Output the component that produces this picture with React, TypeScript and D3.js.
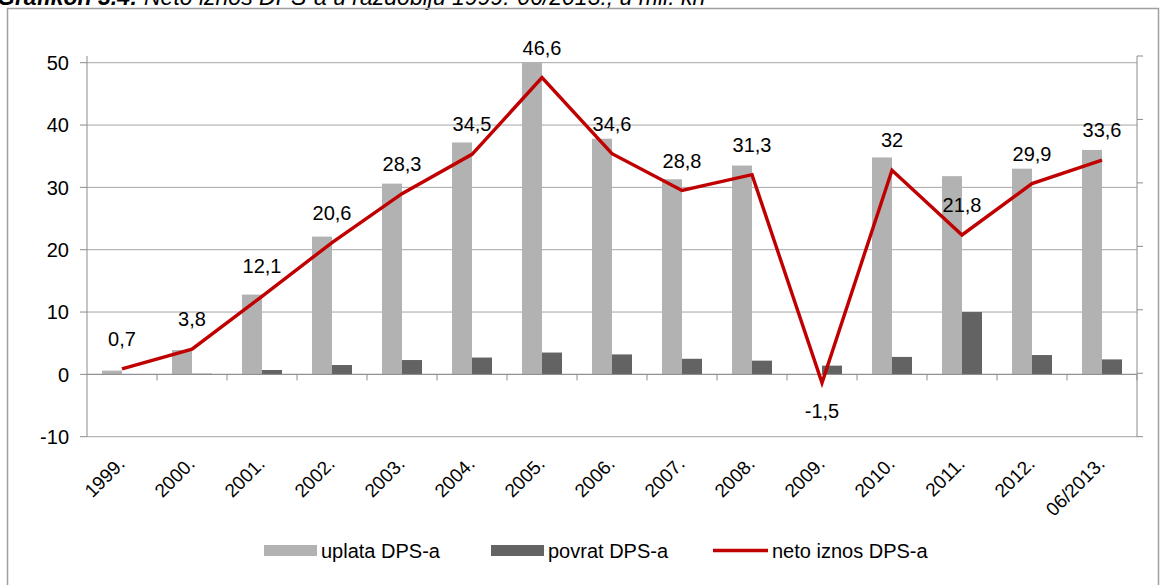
import React from "react";
import * as d3 from "d3";

const categories = ["1999.", "2000.", "2001.", "2002.", "2003.", "2004.", "2005.", "2006.", "2007.", "2008.", "2009.", "2010.", "2011.", "2012.", "06/2013."];
const uplata = [0.6, 3.9, 12.8, 22.1, 30.6, 37.2, 50.1, 37.8, 31.3, 33.5, 0, 34.8, 31.8, 33.0, 36.0];
const povrat = [0, 0.1, 0.7, 1.5, 2.3, 2.7, 3.5, 3.2, 2.5, 2.2, 1.4, 2.8, 10.0, 3.1, 2.4];
const neto = [0.7, 3.8, 12.1, 20.6, 28.3, 34.5, 46.6, 34.6, 28.8, 31.3, -1.5, 32, 21.8, 29.9, 33.6];
const netoLabels = ["0,7", "3,8", "12,1", "20,6", "28,3", "34,5", "46,6", "34,6", "28,8", "31,3", "-1,5", "32", "21,8", "29,9", "33,6"];
const yTicks = [-10, 0, 10, 20, 30, 40, 50];
const seriesNames = ["uplata DPS-a", "povrat DPS-a", "neto iznos DPS-a"];
// NOTE: the reference title is cropped at the top edge; only "Grafikon 3.4: Neto iznos DPS"
// and "1999.-06/2013., u mil. kn" are legible. The middle words ("-a u razdoblju") are a guess.
const titleBold = "Grafikon 3.4:";
const titleRest = " Neto iznos DPS-a u razdoblju 1999.-06/2013., u mil. kn";

const FONT = "'Liberation Sans', Arial, sans-serif";
const LIGHT = "#b2b2b2";
const DARK = "#636363";
const RED = "#c00000";
const GRID = "#a6a6a6";

export default function App() {
  const left = 87, right = 1137;
  const x = d3.scaleBand<string>().domain(categories).range([left, right]).paddingInner(0).paddingOuter(0);
  const bw = x.bandwidth();
  const barW = 20;
  const yL = d3.scaleLinear().domain([-10, 50]).range([436.7, 62.7]);
  const yR = d3.scaleLinear().domain([-10, 50]).range([436.7, 56]);
  const cx = (c: string) => (x(c) as number) + bw / 2;
  const line = d3.line<number>().x((_, i) => cx(categories[i])).y((d) => yR(d));

  return (
    <svg width={1166} height={585} style={{ position: "absolute", left: 0, top: 0, background: "#fff" }} fontFamily={FONT}>
      <text x={-3} y={5} fontSize={23} fill="#000">
        <tspan fontWeight="bold" fontStyle="italic">{titleBold}</tspan>
        <tspan fontStyle="italic">{titleRest}</tspan>
      </text>
      <rect x={7.5} y={8.5} width={1151} height={600} fill="none" stroke="#a0a0a0" strokeWidth={1.5} />

      {yTicks.map((t) => (
        <line key={"g" + t} x1={left} x2={right} y1={yL(t)} y2={yL(t)} stroke={GRID} strokeWidth={1} />
      ))}

      {categories.map((c, i) => (
        <g key={"b" + c}>
          <rect x={cx(c) - barW} y={yL(Math.max(0, uplata[i]))} width={barW} height={Math.abs(yL(uplata[i]) - yL(0))} fill={LIGHT} />
          <rect x={cx(c)} y={yL(Math.max(0, povrat[i]))} width={barW} height={Math.abs(yL(povrat[i]) - yL(0))} fill={DARK} />
        </g>
      ))}

      {/* left axis */}
      <line x1={left} x2={left} y1={56} y2={437} stroke="#8c8c8c" strokeWidth={1} />
      {yTicks.map((t) => (
        <g key={"l" + t}>
          <line x1={80} x2={left} y1={yL(t)} y2={yL(t)} stroke="#8c8c8c" />
          <text x={69} y={yL(t)} dy="0.36em" textAnchor="end" fontSize={20} fill="#000">{t}</text>
        </g>
      ))}
      {/* right axis */}
      <line x1={right} x2={right} y1={56} y2={437} stroke="#8c8c8c" strokeWidth={1} />
      {yTicks.map((t) => (
        <line key={"r" + t} x1={right} x2={right + 6} y1={yR(t)} y2={yR(t)} stroke="#8c8c8c" />
      ))}
      {/* category axis at zero */}
      <line x1={left} x2={right} y1={yL(0)} y2={yL(0)} stroke="#8c8c8c" />
      {categories.map((c) => (
        <line key={"t" + c} x1={(x(c) as number) + bw} x2={(x(c) as number) + bw} y1={yL(0)} y2={yL(0) + 6} stroke="#8c8c8c" />
      ))}
      {categories.map((c) => (
        <text key={"x" + c} transform={`translate(${cx(c) + 4},${465}) rotate(-45)`} textAnchor="end" fontSize={19} fill="#000">{c}</text>
      ))}

      <path d={line(neto) as string} fill="none" stroke={RED} strokeWidth={3.4} strokeLinejoin="miter" />
      {categories.map((c, i) => (
        <text key={"d" + c} x={cx(c)} y={neto[i] < 0 ? yR(neto[i]) + 35 : yR(neto[i]) - 23} textAnchor="middle" fontSize={20} fill="#000">{netoLabels[i]}</text>
      ))}

      {/* legend */}
      <rect x={264} y={545} width={53} height={11} fill={LIGHT} />
      <text x={321} y={557.5} fontSize={20} fill="#000">{seriesNames[0]}</text>
      <rect x={491} y={545} width={53} height={11} fill={DARK} />
      <text x={548} y={557.5} fontSize={20} fill="#000">{seriesNames[1]}</text>
      <line x1={713} x2={768} y1={550.5} y2={550.5} stroke={RED} strokeWidth={3.4} />
      <text x={772} y={557.5} fontSize={20} fill="#000">{seriesNames[2]}</text>
    </svg>
  );
}
